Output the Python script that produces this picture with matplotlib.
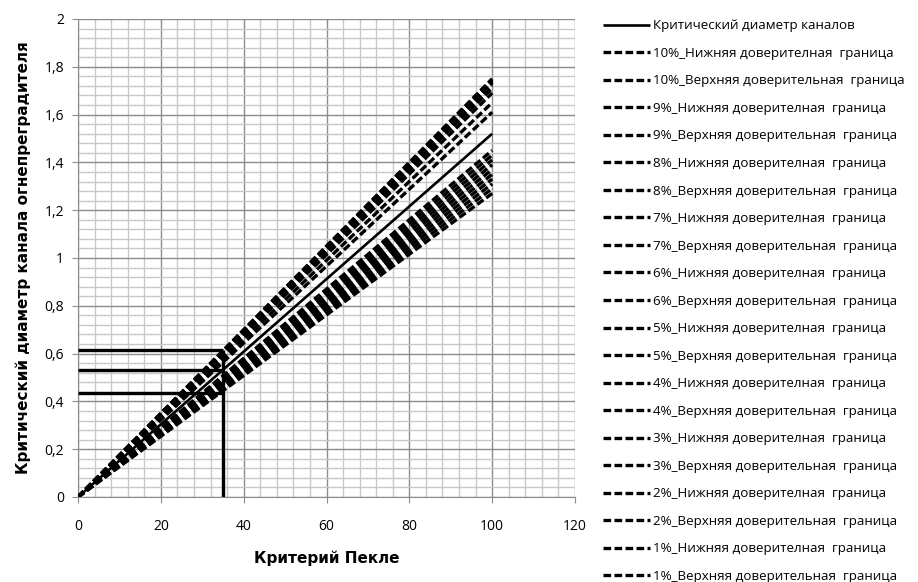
import matplotlib
matplotlib.use("Agg")
import matplotlib.pyplot as plt
from matplotlib.ticker import MultipleLocator, FuncFormatter

plt.rcParams['font.family'] = ['Open Sans', 'Noto Sans', 'DejaVu Sans']

# Peclet number range of the lines
pe = [0, 100]
# Critical channel diameter
critical = [0, 1.52]

# Confidence bounds (value at Pe = 100), levels 10% .. 1%
levels = ["10%", "9%", "8%", "7%", "6%", "5%", "4%", "3%", "2%", "1%"]
lower_end = [1.27, 1.29, 1.31, 1.33, 1.35, 1.37, 1.39, 1.41, 1.43, 1.45]
upper_end = [1.75, 1.745, 1.74, 1.735, 1.73, 1.72, 1.71, 1.69, 1.65, 1.61]

# Reading of the chart at a given Peclet number
pe_read = 35
d_read = [0.615, 0.532, 0.435]

fig = plt.figure(figsize=(9.18, 5.82), dpi=100)
ax = fig.add_axes([78 / 918, 85 / 582, 497 / 918, 478 / 582])

handles = []
h, = ax.plot(pe, critical, color="black", lw=1.9, solid_capstyle="butt",
             label="Критический диаметр каналов", zorder=5)
handles.append(h)

dash = (0, (2.3, 1.0))
for lvl, lo, hi in zip(levels, lower_end, upper_end):
    h1, = ax.plot(pe, [0, lo], color="black", lw=2.4, linestyle=dash,
                  dash_capstyle="butt",
                  label=f"{lvl}_Нижняя доверителная  граница", zorder=4)
    h2, = ax.plot(pe, [0, hi], color="black", lw=2.4, linestyle=dash,
                  dash_capstyle="butt",
                  label=f"{lvl}_Верхняя доверительная  граница", zorder=4)
    handles += [h1, h2]

for d in d_read:
    ax.plot([0, pe_read], [d, d], color="black", lw=2.4,
            solid_capstyle="butt", zorder=6)
ax.plot([pe_read, pe_read], [0, max(d_read)], color="black", lw=2.4,
        solid_capstyle="butt", zorder=6)

ax.set_xlim(0, 120)
ax.set_ylim(0, 2)
ax.xaxis.set_major_locator(MultipleLocator(20))
ax.xaxis.set_minor_locator(MultipleLocator(4))
ax.yaxis.set_major_locator(MultipleLocator(0.2))
ax.yaxis.set_minor_locator(MultipleLocator(0.04))
ax.yaxis.set_major_formatter(FuncFormatter(
    lambda v, p: f"{v:.1f}".replace(".", ",").replace(",0", "") if v else "0"))

ax.grid(which="major", color="#8c8c8c", lw=1.0, zorder=1)
ax.grid(which="minor", color="#c8c8c8", lw=1.0, zorder=0)
ax.set_axisbelow(True)
for side in ["top", "right"]:
    ax.spines[side].set_visible(False)
for side in ["left", "bottom"]:
    ax.spines[side].set_color("#8c8c8c")
ax.tick_params(which="major", length=4, color="#8c8c8c", labelsize=10,
               pad=6)
ax.tick_params(which="minor", length=0)
ax.tick_params(axis="x", pad=12)

label_font = dict(fontsize=11, fontweight="bold",
                  family=["DejaVu Sans"])
ax.set_xlabel("Критерий Пекле", labelpad=12, **label_font)
ax.set_ylabel("Критический диаметр канала огнепреградителя", labelpad=10,
              **label_font)

leg = fig.legend(handles=handles, loc="upper left",
                 bbox_to_anchor=(598 / 918, 1 - 14 / 582),
                 frameon=False, fontsize=9.6, handlelength=3.5,
                 handletextpad=0.2, labelspacing=1.09, borderaxespad=0)

fig.savefig("out.png", dpi=100)
